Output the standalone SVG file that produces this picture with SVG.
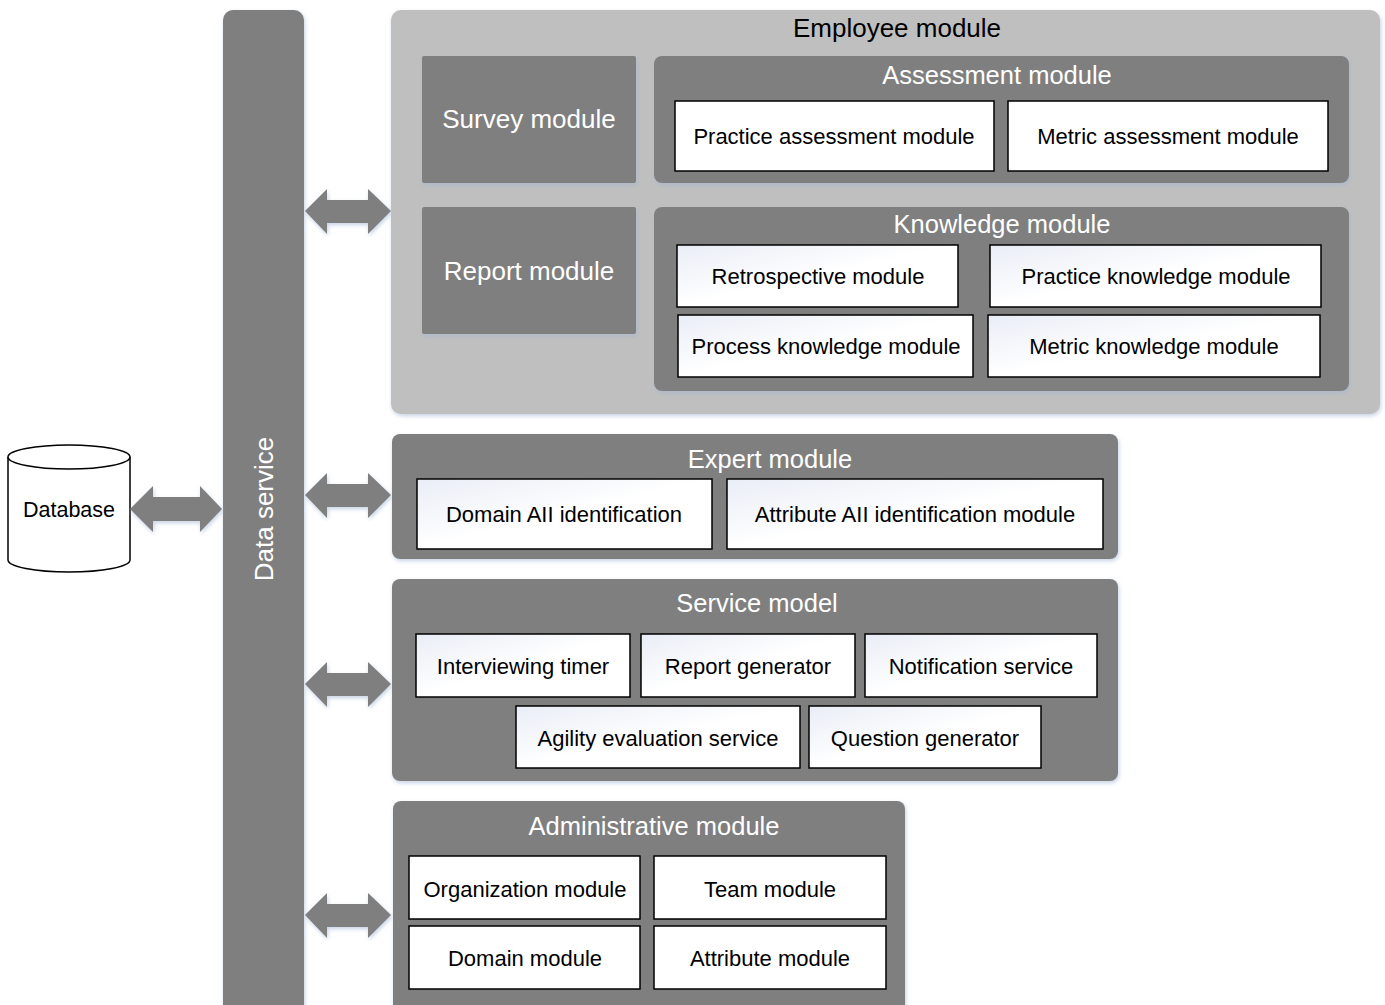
<svg xmlns="http://www.w3.org/2000/svg" width="1385" height="1005" viewBox="0 0 1385 1005">
  <defs>
    <linearGradient id="boxFill" x1="0" y1="0" x2="1" y2="1">
      <stop offset="0" stop-color="#e9edf6"/>
      <stop offset="0.5" stop-color="#ffffff"/>
      <stop offset="1" stop-color="#ffffff"/>
    </linearGradient>
    <filter id="glow" x="-5%" y="-5%" width="110%" height="110%">
      <feDropShadow dx="1" dy="2" stdDeviation="2" flood-color="#9fb4d0" flood-opacity="0.6"/>
    </filter>
    <style>
      .panel { fill: #bfbfbf; filter: url(#glow); }
      .group { fill: #7f7f7f; filter: url(#glow); }
      .leaf { fill: url(#boxFill); stroke: #000; stroke-width: 1.5; }
      .plain { fill: #fff; stroke: #000; stroke-width: 1.5; }
      .arrow { fill: #7f7f7f; filter: url(#glow); }
      text { font-family: "Liberation Sans", Arial, sans-serif; text-anchor: middle; }
      .t-leaf { font-size: 22px; fill: #000; }
      .t-db { font-size: 21.5px; fill: #000; }
      .t-head { font-size: 25.5px; fill: #fff; }
      .t-big { font-size: 26px; fill: #fff; }
      .t-top { font-size: 26px; fill: #000; }
    </style>
  </defs>

  <!-- database cylinder -->
  <g id="database">
    <path d="M8,457 L8,560 A61,12 0 0 0 130,560 L130,457" fill="#fff" stroke="#000" stroke-width="1.5"/>
    <ellipse cx="69" cy="457" rx="61" ry="12" fill="#fff" stroke="#000" stroke-width="1.5"/>
    <text class="t-db" x="69" y="517">Database</text>
  </g>

  <!-- data service bar -->
  <g id="data-service">
    <rect class="group" x="223" y="10" width="81" height="1010" rx="10"/>
    <text class="t-big" transform="translate(273,509) rotate(-90)" x="0" y="0">Data service</text>
  </g>

  <!-- two-way arrows -->
  <g id="connectors">
    <path class="arrow" d="M130,509 L153,486 L153,497 L200,497 L200,486 L222,509 L200,532 L200,521 L153,521 L153,532 Z"/>
    <path class="arrow" d="M305,211 L327,189 L327,200 L368,200 L368,189 L391,211 L368,234 L368,223 L327,223 L327,234 Z"/>
    <path class="arrow" d="M305,495 L327,473 L327,484 L368,484 L368,473 L391,495 L368,518 L368,507 L327,507 L327,518 Z"/>
    <path class="arrow" d="M305,684 L327,662 L327,673 L368,673 L368,662 L391,684 L368,707 L368,696 L327,696 L327,707 Z"/>
    <path class="arrow" d="M305,915 L327,893 L327,904 L368,904 L368,893 L391,915 L368,938 L368,927 L327,927 L327,938 Z"/>
  </g>

  <!-- employee module -->
  <g id="employee-module">
    <rect class="panel" x="391" y="10" width="989" height="404" rx="10"/>
    <text class="t-top" x="897" y="37">Employee module</text>
  </g>

  <g id="survey-module">
    <rect class="group" x="422" y="56" width="214" height="127" rx="2"/>
    <text class="t-big" x="529" y="128">Survey module</text>
  </g>

  <g id="report-module">
    <rect class="group" x="422" y="207" width="214" height="127" rx="2"/>
    <text class="t-big" x="529" y="280">Report module</text>
  </g>

  <g id="assessment-module">
    <rect class="group" x="654" y="56" width="695" height="127" rx="8"/>
    <text class="t-head" x="997" y="84">Assessment module</text>
  </g>
  <g id="practice-assessment">
    <rect class="plain" x="675" y="101" width="319" height="70"/>
    <text class="t-leaf" x="834" y="144">Practice assessment module</text>
  </g>
  <g id="metric-assessment">
    <rect class="plain" x="1008" y="101" width="320" height="70"/>
    <text class="t-leaf" x="1168" y="144">Metric assessment module</text>
  </g>

  <g id="knowledge-module">
    <rect class="group" x="654" y="207" width="695" height="184" rx="8"/>
    <text class="t-head" x="1002" y="233">Knowledge module</text>
  </g>
  <g id="retrospective">
    <rect class="leaf" x="677" y="245" width="281" height="62"/>
    <text class="t-leaf" x="818" y="284">Retrospective module</text>
  </g>
  <g id="practice-knowledge">
    <rect class="leaf" x="990" y="245" width="331" height="62"/>
    <text class="t-leaf" x="1156" y="284">Practice knowledge module</text>
  </g>
  <g id="process-knowledge">
    <rect class="leaf" x="678" y="315" width="295" height="62"/>
    <text class="t-leaf" x="826" y="354">Process knowledge module</text>
  </g>
  <g id="metric-knowledge">
    <rect class="leaf" x="988" y="315" width="332" height="62"/>
    <text class="t-leaf" x="1154" y="354">Metric knowledge module</text>
  </g>

  <!-- expert module -->
  <g id="expert-module">
    <rect class="group" x="392" y="434" width="726" height="125" rx="8"/>
    <text class="t-head" x="770" y="468">Expert module</text>
  </g>
  <g id="domain-aii">
    <rect class="leaf" x="417" y="479" width="295" height="70"/>
    <text class="t-leaf" x="564" y="522">Domain AII identification</text>
  </g>
  <g id="attribute-aii">
    <rect class="leaf" x="727" y="479" width="376" height="70"/>
    <text class="t-leaf" x="915" y="522">Attribute AII identification module</text>
  </g>

  <!-- service model -->
  <g id="service-model">
    <rect class="group" x="392" y="579" width="726" height="202" rx="8"/>
    <text class="t-head" x="757" y="612">Service model</text>
  </g>
  <g id="interviewing-timer">
    <rect class="leaf" x="416" y="634" width="214" height="63"/>
    <text class="t-leaf" x="523" y="674">Interviewing timer</text>
  </g>
  <g id="report-generator">
    <rect class="leaf" x="641" y="634" width="214" height="63"/>
    <text class="t-leaf" x="748" y="674">Report generator</text>
  </g>
  <g id="notification-service">
    <rect class="leaf" x="865" y="634" width="232" height="63"/>
    <text class="t-leaf" x="981" y="674">Notification service</text>
  </g>
  <g id="agility-evaluation">
    <rect class="leaf" x="516" y="706" width="284" height="62"/>
    <text class="t-leaf" x="658" y="746">Agility evaluation service</text>
  </g>
  <g id="question-generator">
    <rect class="leaf" x="809" y="706" width="232" height="62"/>
    <text class="t-leaf" x="925" y="746">Question generator</text>
  </g>

  <!-- administrative module -->
  <g id="administrative-module">
    <rect class="group" x="393" y="801" width="512" height="220" rx="8"/>
    <text class="t-head" x="654" y="835">Administrative module</text>
  </g>
  <g id="organization-module">
    <rect class="plain" x="409" y="856" width="231" height="63"/>
    <text class="t-leaf" x="525" y="897">Organization module</text>
  </g>
  <g id="team-module">
    <rect class="plain" x="654" y="856" width="232" height="63"/>
    <text class="t-leaf" x="770" y="897">Team module</text>
  </g>
  <g id="domain-module">
    <rect class="plain" x="409" y="926" width="231" height="63"/>
    <text class="t-leaf" x="525" y="966">Domain module</text>
  </g>
  <g id="attribute-module">
    <rect class="plain" x="654" y="926" width="232" height="63"/>
    <text class="t-leaf" x="770" y="966">Attribute module</text>
  </g>
</svg>
